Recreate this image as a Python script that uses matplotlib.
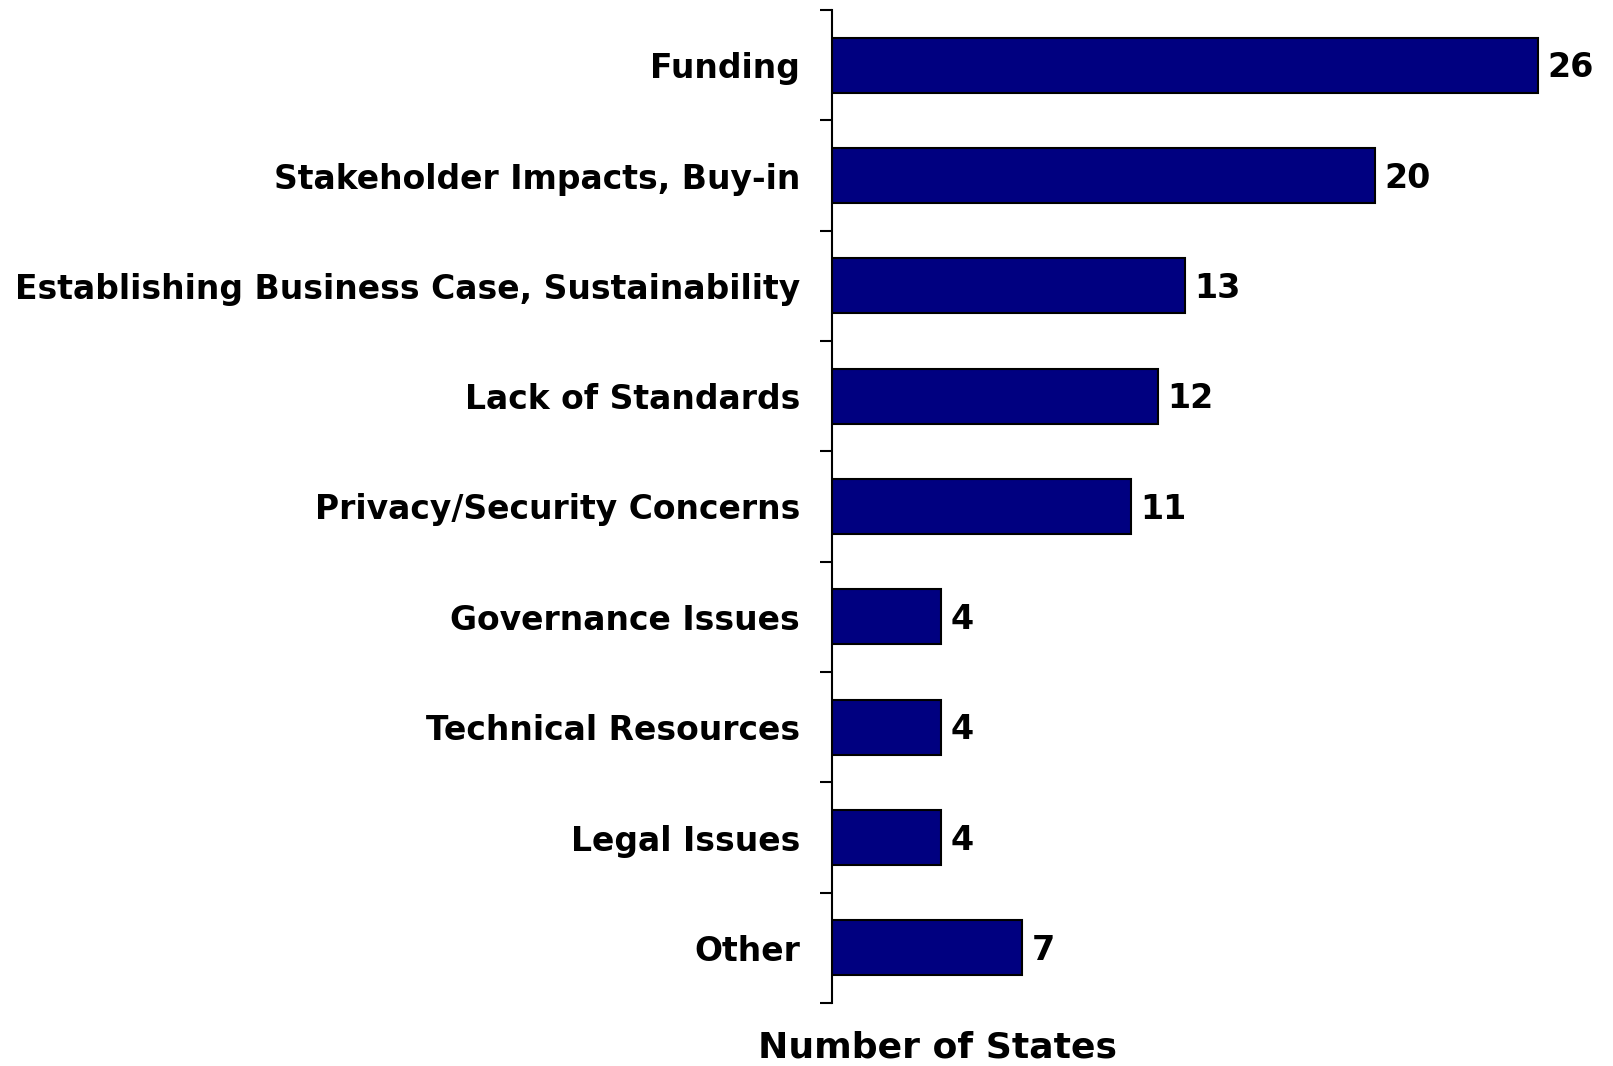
import numpy as np
import matplotlib.pyplot as plt
from matplotlib.ticker import FixedLocator

categories = ["Funding", "Stakeholder Impacts, Buy-in",
              "Establishing Business Case, Sustainability",
              "Lack of Standards", "Privacy/Security Concerns",
              "Governance Issues", "Technical Resources", "Legal Issues", "Other"]
values = [26, 20, 13, 12, 11, 4, 4, 4, 7]

plt.rcParams['font.family'] = ['DejaVu Sans']

W, H = 1613, 1066
fig = plt.figure(figsize=(W / 100, H / 100), dpi=100)
ax = fig.add_axes([832 / W, 1 - 1003 / H, (1606 - 832) / W, (1003 - 10) / H])

n = len(categories)
y = np.arange(n)
ax.barh(y, values, height=0.5, color='#000080', edgecolor='black', linewidth=1.5)
# value labels, baseline placed so the digits sit centred on the bar
for yi, v in zip(y, values):
    ax.text(v + 0.35, yi + 0.11, str(v), va='baseline', ha='left', fontsize=24, fontweight='bold')

ax.set_ylim(n - 0.5, -0.5)
ax.set_xlim(0, 28.5)
ax.set_yticks(y)
ax.set_yticklabels(categories, fontsize=23.8, fontweight='bold')
ax.tick_params(axis='y', which='major', length=0, pad=23)
ax.yaxis.set_minor_locator(FixedLocator(np.arange(n + 1) - 0.5))
ax.tick_params(axis='y', which='minor', length=9, width=1.5, direction='out')
ax.set_xticks([])
for s in ['top', 'right', 'bottom']:
    ax.spines[s].set_visible(False)
ax.spines['left'].set_linewidth(1.5)

fig.text(937 / W, 1 - 1058 / H, "Number of States", ha='center', va='baseline',
         fontsize=26, fontweight='bold')

fig.savefig("out.png", dpi=100)
